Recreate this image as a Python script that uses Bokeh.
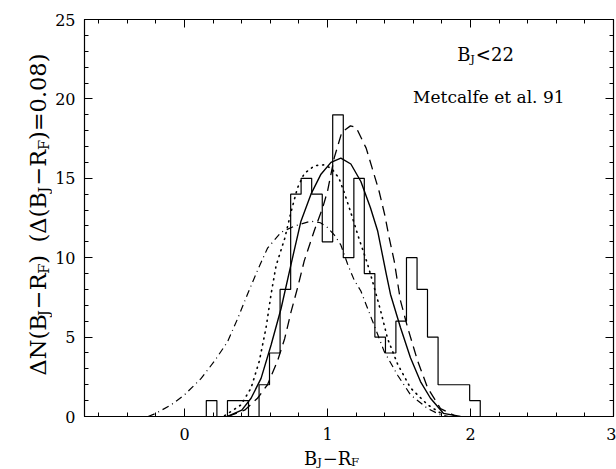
import math
from bokeh.plotting import figure
from bokeh.models import Range1d, LinearAxis, SingleIntervalTicker, Label
from bokeh.layouts import row, column
from bokeh.embed import file_html
from bokeh.resources import INLINE

# ---------------- data ----------------
bin_edges = [0.152, 0.226, 0.300, 0.373, 0.447, 0.521, 0.594, 0.668, 0.742,
             0.815, 0.889, 0.963, 1.036, 1.110, 1.184, 1.257, 1.331, 1.405,
             1.478, 1.552, 1.626, 1.699, 1.773, 1.847, 1.920, 1.994, 2.068]
counts = [1, 0, 1, 1, 0, 2, 4, 8, 14, 15, 14, 11, 19, 10, 15, 9, 5, 4, 6, 10,
          8, 5, 2, 2, 2, 1]

solid_x = [0.30, 0.40, 0.465, 0.535, 0.605, 0.675, 0.745, 0.814, 0.884, 0.954,
           1.024, 1.093, 1.163, 1.233, 1.30, 1.35, 1.41, 1.44, 1.51, 1.58, 1.65,
           1.72, 1.81, 1.93]
solid_y = [0.0, 0.4, 1.15, 2.4, 4.5, 6.8, 9.6, 12.3, 14.0, 15.26, 16.0, 16.27,
           15.9, 14.8, 13.15, 11.7, 9.0, 7.7, 5.6, 3.7, 2.2, 1.15, 0.2, 0.0]

dashed_x = [0.30, 0.42, 0.51, 0.58, 0.65, 0.70, 0.745, 0.79, 0.837, 0.907, 0.966,
            1.0, 1.047, 1.10, 1.16, 1.20, 1.27, 1.31, 1.36, 1.40, 1.43, 1.466,
            1.51, 1.56, 1.63, 1.70, 1.79, 1.90]
dashed_y = [0.0, 0.4, 1.15, 2.0, 3.5, 4.9, 6.6, 8.1, 9.8, 11.7, 13.15, 14.2,
            16.3, 17.9, 18.3, 18.2, 16.9, 15.7, 14.2, 12.7, 11.3, 9.8, 7.3, 5.6,
            3.5, 1.8, 0.5, 0.0]

dotted_x = [0.28, 0.396, 0.465, 0.523, 0.57, 0.605, 0.64, 0.70, 0.745, 0.79,
            0.837, 0.91, 0.976, 1.03, 1.08, 1.117, 1.15, 1.22, 1.28, 1.315,
            1.373, 1.42, 1.49, 1.58, 1.70, 1.81]
dotted_y = [0.05, 0.74, 1.8, 3.5, 5.6, 7.7, 9.5, 11.2, 12.9, 14.4, 15.3, 15.8,
            15.85, 15.6, 15.0, 14.1, 13.2, 11.2, 9.6, 8.5, 6.6, 4.9, 3.3, 1.8,
            0.74, 0.1]

dashdot_x = [-0.255, -0.2, -0.093, 0.0, 0.116, 0.21, 0.30, 0.373, 0.44, 0.51,
             0.58, 0.675, 0.77, 0.884, 0.95, 1.0, 1.05, 1.093, 1.14, 1.186,
             1.233, 1.315, 1.396, 1.49, 1.58, 1.70, 1.79, 1.85]
dashdot_y = [0.0, 0.2, 0.74, 1.37, 2.4, 3.5, 4.7, 6.2, 7.7, 9.2, 10.6, 11.6,
             12.0, 12.3, 12.2, 11.9, 11.4, 10.8, 9.6, 8.6, 7.9, 6.0, 4.1, 2.6,
             1.37, 0.5, 0.1, 0.0]

X_MIN, X_MAX = -0.7, 3.0
Y_MIN, Y_MAX = 0, 25
x_major_step = 1
y_major_step = 5

FONT = "DejaVu Serif"

# layout sizes (pixels)
YLAB_W = 52
MAIN_W = 616 - YLAB_W
MAIN_H = 446
XLAB_H = 469 - MAIN_H

# ---------------- main figure ----------------
p = figure(width=MAIN_W, height=MAIN_H, output_backend="svg",
           toolbar_location=None,
           x_range=Range1d(X_MIN, X_MAX), y_range=Range1d(Y_MIN, Y_MAX),
           min_border_left=83 - YLAB_W, min_border_right=3, min_border_top=19,
           min_border_bottom=MAIN_H - 416, x_axis_type=None, y_axis_type=None)
p.background_fill_color = "white"
p.border_fill_color = "white"
p.outline_line_color = "black"
p.outline_line_width = 1.2
p.xgrid.visible = False
p.ygrid.visible = False


def make_axis(interval, labels, standoff):
    ax = LinearAxis(ticker=SingleIntervalTicker(interval=interval, num_minor_ticks=5))
    ax.axis_line_color = "black"
    ax.major_tick_in = 8
    ax.major_tick_out = 0
    ax.minor_tick_in = 4
    ax.minor_tick_out = 0
    ax.major_tick_line_color = "black"
    ax.minor_tick_line_color = "black"
    ax.major_label_standoff = standoff
    if labels:
        ax.major_label_text_font = FONT
        ax.major_label_text_font_size = "16px"
        ax.major_label_text_color = "black"
    else:
        ax.major_label_text_font_size = "1px"
        ax.major_label_text_color = None
    return ax


p.add_layout(make_axis(x_major_step, True, 11), "below")
p.add_layout(make_axis(y_major_step, True, 9), "left")
p.add_layout(make_axis(x_major_step, False, 0), "above")
p.add_layout(make_axis(y_major_step, False, 0), "right")

# ---------------- histogram outline ----------------
hx, hy = [bin_edges[0]], [0]
for i, c in enumerate(counts):
    hx += [bin_edges[i], bin_edges[i + 1]]
    hy += [c, c]
hx.append(bin_edges[-1])
hy.append(0)
p.line(hx, hy, line_color="black", line_width=1.2)

# ---------------- model curves ----------------
p.line(solid_x, solid_y, line_color="black", line_width=1.4)
p.line(dashed_x, dashed_y, line_color="black", line_width=1.3, line_dash="10 6")
p.line(dotted_x, dotted_y, line_color="black", line_width=1.6, line_dash="1 5",
       line_cap="round")
p.line(dashdot_x, dashdot_y, line_color="black", line_width=1.2,
       line_dash="7 4 1 4")

# ---------------- texts with subscripts ----------------
W = {'B': 0.73, 'J': 0.47, 'R': 0.74, 'F': 0.68, 'N': 0.80, 'Δ': 0.72,
     '(': 0.39, ')': 0.39, '−': 0.838, '=': 0.838, '<': 0.838, '0': 0.636,
     '2': 0.636, '8': 0.636, '.': 0.318, ' ': 0.318}
SUB = 0.65


def rich_label(fig, parts, x, y, size, angle=0.0, units="data", drop_em=0.27):
    # parts: (text, is_subscript) or (None, gap_in_em)
    widths = []
    for t, s in parts:
        if t is None:
            widths.append(s * size)
        else:
            widths.append(sum(W.get(ch, 0.6) for ch in t) * size * (SUB if s else 1))
    total = sum(widths)
    pos = -total / 2
    for (t, s), w in zip(parts, widths):
        if t is not None:
            fs = size * SUB if s else size
            drop = size * drop_em if s else 0
            if angle == 0:
                dx, dy = pos, -drop
            else:
                dx, dy = drop, pos
            fig.add_layout(Label(x=x, y=y, x_units=units, y_units=units,
                                 x_offset=dx, y_offset=dy, text=t,
                                 angle=angle, text_font=FONT,
                                 text_font_size=f"{fs:.1f}px", text_color="black",
                                 text_align="left", text_baseline="alphabetic"))
        pos += w


def blank_fig(w, h):
    f = figure(width=w, height=h, output_backend="svg", toolbar_location=None,
               x_range=Range1d(0, 1), y_range=Range1d(0, 1),
               x_axis_type=None, y_axis_type=None, min_border=0)
    f.outline_line_color = None
    f.background_fill_color = "white"
    f.border_fill_color = "white"
    f.xgrid.visible = False
    f.ygrid.visible = False
    return f


# annotations inside the frame
rich_label(p, [("B", False), ("J", True), ("<22", False)], 2.105, 22.8, 18)
p.add_layout(Label(x=2.128, y=20.1, text="Metcalfe et al. 91", text_font=FONT,
                   text_font_size="17px", text_color="black",
                   text_align="center", text_baseline="alphabetic"))

# y-axis label panel
ylab = blank_fig(YLAB_W, 469)
rich_label(ylab, [("ΔN(B", False), ("J", True), ("−R", False), ("F", True),
                  (")", False), (None, 0.55),
                  ("(Δ(B", False), ("J", True), ("−R", False), ("F", True),
                  (")=0.08)", False)],
           37, 214, 22.5, angle=math.pi / 2, units="canvas")

# x-axis label panel
xlab = blank_fig(MAIN_W, XLAB_H)
rich_label(xlab, [("B", False), ("J", True), ("−R", False), ("F", True)],
           331 - YLAB_W, 458 - MAIN_H, 18, units="canvas", drop_em=0.22)

layout = row(ylab, column(p, xlab, spacing=0), spacing=0)
open("out.html", "w").write(file_html(layout, INLINE))
